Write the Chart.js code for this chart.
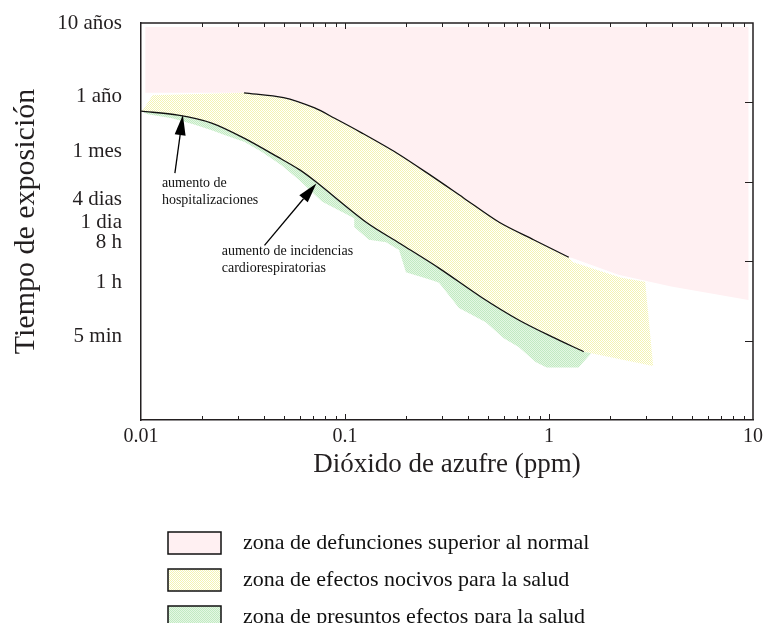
<!DOCTYPE html>
<html>
<head>
<meta charset="utf-8">
<script src="https://cdn.jsdelivr.net/npm/chart.js@4.4.1/dist/chart.umd.min.js"></script>
<style>
  html, body { margin: 0; padding: 0; background: #fff; }
  canvas { display: block; }
</style>
</head>
<body>
<canvas id="so2Canvas" width="768" height="623"></canvas>
<script>
// --- data (x = SO2 ppm, y = position on the exposure-time axis, 0 = bottom, 5 = top) ---
const zoneLabels = [
  "zona de defunciones superior al normal",
  "zona de efectos nocivos para la salud",
  "zona de presuntos efectos para la salud"
];

const xTickValues = [0.01, 0.1, 1, 10];
const xTickLabels = ["0.01", "0.1", "1", "10"];
const yTickValues = [5, 4.07, 3.38, 2.78, 2.49, 2.24, 1.73, 1.05];
const yTickLabels = ["10 años", "1 año", "1 mes", "4 dias", "1 dia", "8 h", "1 h", "5 min"];

// upper black curve (limit of the excess mortality zone)
const upperX = [0.032, 0.05, 0.071, 0.089, 0.12, 0.18, 0.26, 0.38, 0.57, 0.84, 1.25];
const upperY = [4.12, 4.06, 3.93, 3.80, 3.62, 3.36, 3.09, 2.80, 2.49, 2.27, 2.05];

// lower black curve (hospitalizaciones / incidencias cardiorespiratorias)
const lowerX = [0.01, 0.0152, 0.0222, 0.032, 0.047, 0.06, 0.072, 0.127, 0.184, 0.29, 0.47, 0.71, 1.03, 1.48];
const lowerY = [3.89, 3.84, 3.74, 3.55, 3.31, 3.15, 3.00, 2.49, 2.23, 1.91, 1.54, 1.26, 1.05, 0.86];

// pink zone outline, outside part (the rest follows the upper curve)
const pinkEdgeX = [0.0105, 0.0105, 9.5, 9.5, 3.97, 2.19, 1.3];
const pinkEdgeY = [4.12, 4.95, 4.95, 1.51, 1.68, 1.83, 2.04];

// yellow zone, parts not on the curves
const yellowStartX = [0.0114];
const yellowStartY = [4.09];
const yellowRightX = [1.3, 2.26, 2.96, 3.24, 1.61];
const yellowRightY = [1.99, 1.79, 1.74, 0.68, 0.84];
const yellowEndX = [0.0102];
const yellowEndY = [3.90];

// green zone lower jagged edge, right to left
const greenEdgeX = [1.61, 1.395, 0.973, 0.86, 0.71, 0.60, 0.49, 0.362, 0.289, 0.267, 0.199, 0.184, 0.159, 0.131,
  0.111, 0.111, 0.0774, 0.0598, 0.0488, 0.039, 0.0322, 0.0257, 0.0222, 0.0184, 0.0142, 0.0108];
const greenEdgeY = [0.84, 0.66, 0.66, 0.73, 0.92, 1.03, 1.23, 1.41, 1.73, 1.76, 1.86, 2.14, 2.24, 2.27,
  2.43, 2.54, 2.75, 3.02, 3.21, 3.38, 3.50, 3.59, 3.65, 3.72, 3.80, 3.85];

// notes with arrows
const noteLines = [["aumento de", "hospitalizaciones"], ["aumento de incidencias", "cardiorespiratorias"]];
const noteX = [0.01266, 0.02487];
const noteY = [2.98, 2.12];
const arrowFromX = [0.01466, 0.0403];
const arrowFromY = [3.11, 2.20];
const arrowToX = [0.01604, 0.0724];
const arrowToY = [3.84, 2.98];

const rightTickValues = [1, 2, 3, 4];

// --- helpers ---
const pts = (xs, ys) => xs.map((x, i) => ({x: x, y: ys[i]}));

const upperPts = pts(upperX, upperY);
const lowerPts = pts(lowerX, lowerY);
const pinkPoly = pts(pinkEdgeX, pinkEdgeY).concat(upperPts.slice().reverse());
const yellowPoly = pts(yellowStartX, yellowStartY)
  .concat(upperPts, pts(yellowRightX, yellowRightY), lowerPts.slice().reverse(), pts(yellowEndX, yellowEndY));
const greenPoly = lowerPts.concat(pts(greenEdgeX, greenEdgeY));

const canvas = document.getElementById("so2Canvas");
const ctx = canvas.getContext("2d");

function makePattern(c1, c2) {
  const p = document.createElement("canvas");
  p.width = 2; p.height = 2;
  const g = p.getContext("2d");
  g.fillStyle = c2; g.fillRect(0, 0, 2, 2);
  g.fillStyle = c1; g.fillRect(0, 0, 1, 1); g.fillRect(1, 1, 1, 1);
  return ctx.createPattern(p, "repeat");
}

const pinkFill = "#fff0f2";
const yellowFill = makePattern("#f4f4b2", "#ffffff");
const greenFill = makePattern("#c2eac2", "#e4f7e4");

const axisColor = "#231f20";
const serif = "Liberation Serif";

// inward tick marks, top/right border, notes, arrows and the legend
const decorations = {
  id: "decorations",
  afterDatasetsDraw(chart) {
    const c = chart.ctx;
    const area = chart.chartArea;
    const xs = chart.scales.x;
    const ys = chart.scales.y;
    c.save();
    c.strokeStyle = axisColor;
    c.lineWidth = 1.5;
    c.beginPath();
    c.moveTo(area.left, area.top); c.lineTo(area.right, area.top); c.lineTo(area.right, area.bottom);
    c.stroke();

    c.lineWidth = 1;
    c.beginPath();
    for (let e = -2; e < 1; e++) {
      for (let m = 1; m <= 9; m++) {
        const v = m * Math.pow(10, e);
        const px = Math.round(xs.getPixelForValue(v)) + 0.5;
        const len = m === 1 ? 6 : 4;
        if (px <= area.left + 1) continue;
        c.moveTo(px, area.bottom); c.lineTo(px, area.bottom - len);
        c.moveTo(px, area.top); c.lineTo(px, area.top + len);
      }
    }
    rightTickValues.forEach(v => {
      const py = Math.round(ys.getPixelForValue(v)) + 0.5;
      c.moveTo(area.right, py); c.lineTo(area.right - 8, py);
    });
    c.stroke();

    // notes
    c.fillStyle = "#111";
    c.font = "14px '" + serif + "'";
    c.textAlign = "left";
    c.textBaseline = "middle";
    noteLines.forEach((lines, i) => {
      const px = xs.getPixelForValue(noteX[i]);
      const py = ys.getPixelForValue(noteY[i]);
      lines.forEach((t, j) => c.fillText(t, px, py + j * 17));
    });

    // arrows
    c.strokeStyle = "#000";
    c.fillStyle = "#000";
    c.lineWidth = 1.3;
    arrowFromX.forEach((fx, i) => {
      const x0 = xs.getPixelForValue(fx), y0 = ys.getPixelForValue(arrowFromY[i]);
      const x1 = xs.getPixelForValue(arrowToX[i]), y1 = ys.getPixelForValue(arrowToY[i]);
      const a = Math.atan2(y1 - y0, x1 - x0);
      const hl = 20, hw = 5.5;
      const bx = x1 - hl * Math.cos(a), by = y1 - hl * Math.sin(a);
      c.beginPath(); c.moveTo(x0, y0); c.lineTo(bx, by); c.stroke();
      c.beginPath();
      c.moveTo(x1, y1);
      c.lineTo(bx + hw * Math.sin(a), by - hw * Math.cos(a));
      c.lineTo(bx - hw * Math.sin(a), by + hw * Math.cos(a));
      c.closePath(); c.fill();
    });

    // legend
    const zones = chart.data.datasets.filter(d => d.zone).sort((a, b) => a.zone - b.zone);
    c.font = "22px '" + serif + "'";
    c.textBaseline = "middle";
    zones.forEach((d, i) => {
      const top = 532 + i * 37;
      c.fillStyle = d.backgroundColor;
      c.fillRect(168, top, 53, 22);
      c.strokeStyle = "#111";
      c.lineWidth = 1.5;
      c.strokeRect(168, top, 53, 22);
      c.fillStyle = "#111";
      c.fillText(d.label, 243, top + 11);
    });
    c.restore();
  }
};

const lineStyle = {borderColor: "#111", borderWidth: 1.3, pointRadius: 0, fill: false, tension: 0.3};
const zoneStyle = {borderWidth: 0, pointRadius: 0, fill: "shape", tension: 0};

new Chart(canvas, {
  type: "line",
  data: {
    datasets: [
      Object.assign({label: "limite superior", data: upperPts}, lineStyle),
      Object.assign({label: "limite inferior", data: lowerPts}, lineStyle),
      Object.assign({label: zoneLabels[2], zone: 3, data: greenPoly, backgroundColor: greenFill}, zoneStyle),
      Object.assign({label: zoneLabels[1], zone: 2, data: yellowPoly, backgroundColor: yellowFill}, zoneStyle),
      Object.assign({label: zoneLabels[0], zone: 1, data: pinkPoly, backgroundColor: pinkFill}, zoneStyle)
    ]
  },
  options: {
    responsive: false,
    animation: false,
    events: [],
    layout: {padding: {top: 23, right: 10, bottom: 130, left: 0}},
    plugins: {legend: {display: false}, tooltip: {enabled: false}},
    scales: {
      x: {
        type: "logarithmic",
        min: 0.01,
        max: 10,
        afterBuildTicks: s => { s.ticks = xTickValues.map(v => ({value: v, major: true})); },
        afterFit: s => { s.height = 73; },
        ticks: {
          callback: (v, i) => xTickLabels[i],
          font: {family: serif, size: 20},
          color: axisColor,
          padding: 5,
          maxRotation: 0,
          autoSkip: false
        },
        grid: {display: false, drawTicks: false},
        border: {display: true, color: axisColor, width: 1.5},
        title: {
          display: true,
          text: "Dióxido de azufre (ppm)",
          font: {family: serif, size: 27},
          color: axisColor,
          padding: {top: 0, bottom: 12}
        }
      },
      y: {
        type: "linear",
        min: 0,
        max: 5,
        afterBuildTicks: s => { s.ticks = yTickValues.map(v => ({value: v})); },
        afterFit: s => { s.width = 141; },
        ticks: {
          callback: (v, i) => yTickLabels[i],
          font: {family: serif, size: 21},
          color: axisColor,
          padding: 0,
          autoSkip: false
        },
        // grid hidden; tickLength only keeps the labels away from the axis
        grid: {display: false, drawTicks: true, tickLength: 19},
        border: {display: true, color: axisColor, width: 1.5},
        title: {
          display: true,
          text: "Tiempo de exposición",
          font: {family: serif, size: 30},
          color: axisColor,
          padding: {top: 8, bottom: 0}
        }
      }
    }
  },
  plugins: [decorations]
});
</script>
</body>
</html>
